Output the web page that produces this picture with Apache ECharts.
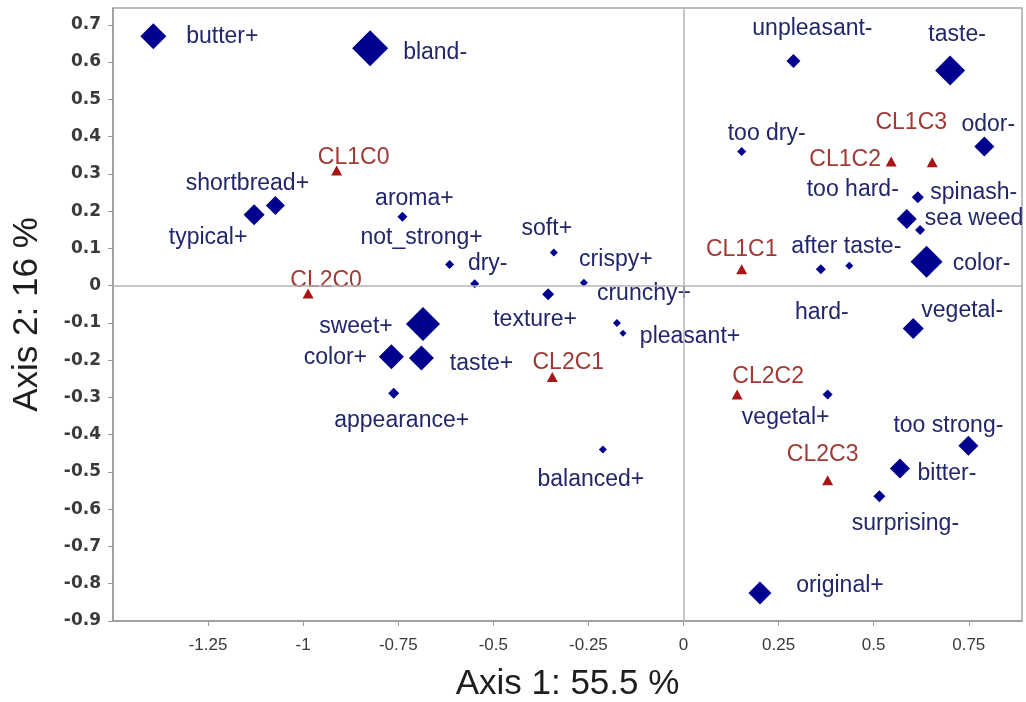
<!DOCTYPE html>
<html>
<head>
<meta charset="utf-8">
<script src="https://cdn.jsdelivr.net/npm/echarts@6/dist/echarts.min.js"></script>
<style>
html,body{margin:0;padding:0;background:#fff;}
#chart{width:1026px;height:702px;}
</style>
</head>
<body>
<div id="chart"></div>
<script>
// ---- Data ----
const attrNames = ["butter+","bland-","shortbread+","typical+","aroma+","not_strong+","dry-","soft+","crispy+","crunchy+","pleasant+","texture+","sweet+","color+","taste+","appearance+","balanced+","unpleasant-","taste-","too dry-","odor-","spinash-","too hard-","sea weed","hard-","after taste-","color-","vegetal-","vegetal+","too strong-","bitter-","surprising-","original+"];
const attrX = [-1.394,-0.824,-1.073,-1.129,-0.739,-0.615,-0.549,-0.341,-0.262,-0.175,-0.159,-0.356,-0.685,-0.768,-0.689,-0.762,-0.212,0.289,0.701,0.153,0.791,0.616,0.587,0.622,0.361,0.436,0.639,0.604,0.379,0.749,0.569,0.515,0.201];
const attrY = [0.669,0.637,0.215,0.190,0.185,0.057,0.005,0.089,0.008,-0.100,-0.128,-0.023,-0.103,-0.191,-0.194,-0.289,-0.440,0.603,0.577,0.360,0.373,0.237,0.179,0.149,0.044,0.053,0.064,-0.115,-0.292,-0.430,-0.491,-0.565,-0.825];
const attrWeight = [6.5,9,4.75,5.25,2.5,2.25,2.25,2,2,2,1.75,3,8.5,6.25,6.25,2.75,2,3.5,7.5,2.25,5,3,5,2.5,2.5,2,8,5.25,2.5,5,5,3,5.75];

const classNames = ["CL1C0","CL2C0","CL1C1","CL2C1","CL1C2","CL1C3","CL2C2","CL2C3"];
const classX = [-0.912,-0.987,0.153,-0.345,0.546,0.654,0.141,0.379];
const classY = [0.309,-0.021,0.044,-0.245,0.333,0.331,-0.292,-0.522];

const xTitle = "Axis 1: 55.5 %";
const yTitle = "Axis 2: 16 %";

// ---- Label placement (pixels from marker centre) ----
const labelOffset = {
  "butter+":[69,0],"bland-":[65,4],"shortbread+":[-28,-22],"typical+":[-46,23],"aroma+":[12,-18],
  "not_strong+":[-28,-27],"dry-":[13,-20],"soft+":[-7,-24],"crispy+":[32,-23],"crunchy+":[27,-29],
  "pleasant+":[67,3],"texture+":[-13,25],"sweet+":[-67,3],"color+":[-56,1],"taste+":[60,6],
  "appearance+":[8,27],"balanced+":[-12,30],"unpleasant-":[19,-32],"taste-":[7,-36],"too dry-":[25,-18],
  "odor-":[4,-22],"spinash-":[56,-5],"too hard-":[-54,-29],"sea weed":[54,-11],"hard-":[1,43],
  "after taste-":[-3,-19],"color-":[55,2],"vegetal-":[49,-18],"vegetal+":[-42,23],"too strong-":[-20,-20],
  "bitter-":[47,5],"surprising-":[26,27],"original+":[80,-7],
  "CL1C0":[17,-13],"CL2C0":[18,-13],"CL1C1":[0,-20],"CL2C1":[16,-14],"CL1C2":[-46,-2],
  "CL1C3":[-21,-40],"CL2C2":[31,-18],"CL2C3":[-5,-25]
};

const FONT = "'Liberation Sans', Arial, sans-serif";

const attrData = attrNames.map((n,i)=>({
  name:n, value:[attrX[i],attrY[i]], symbolSize: attrWeight[i]*4,
  label:{offset: labelOffset[n]}
}));
const classData = classNames.map((n,i)=>({
  name:n, value:[classX[i],classY[i]],
  label:{offset: labelOffset[n]}
}));

const chart = echarts.init(document.getElementById('chart'), null, {renderer:'canvas'});
chart.setOption({
  animation:false,
  backgroundColor:'#fff',
  grid:{left:113,right:4,top:8,bottom:81,outerBoundsMode:'none',containLabel:false,
    show:true,borderColor:'#a8a8a8',borderWidth:1.5},
  xAxis:{
    type:'value', min:-1.5, max:0.89, interval:0.25,
    name:xTitle, nameLocation:'middle', nameGap:46,
    nameTextStyle:{fontFamily:FONT,fontSize:35,color:'#1e1e1e'},
    axisLine:{onZero:false,lineStyle:{color:'#999',width:1.5}},
    axisTick:{show:true,length:5,lineStyle:{color:'#999'}},
    axisLabel:{showMinLabel:false,showMaxLabel:false,fontFamily:FONT,fontSize:17,color:'#3a3a3a',margin:16},
    splitLine:{show:false}
  },
  yAxis:{
    type:'value', min:-0.9, max:0.745, interval:0.1,
    name:yTitle, nameLocation:'middle', nameGap:68, nameRotate:90,
    nameTextStyle:{fontFamily:FONT,fontSize:35,color:'#1e1e1e'},
    axisLine:{onZero:false,lineStyle:{color:'#999',width:1.5}},
    axisTick:{show:true,length:5,lineStyle:{color:'#999'}},
    axisLabel:{showMaxLabel:false,fontFamily:"'DejaVu Sans', sans-serif",fontSize:17,fontWeight:'bold',color:'#3a3a3a',margin:12},
    splitLine:{show:false}
  },
  series:[
    {
      type:'scatter', name:'attributes', symbol:'diamond', data:attrData,
      itemStyle:{color:'#00008f',opacity:1},
      label:{show:true,position:'inside',formatter:'{b}',align:'center',verticalAlign:'middle',
        fontFamily:FONT,fontSize:23,color:'#22266a'},
      markLine:{silent:true,symbol:'none',label:{show:false},
        lineStyle:{color:'#b5b5b5',width:1.5,type:'solid',opacity:1},
        data:[{xAxis:0},{yAxis:0}]},
      z:3
    },
    {
      type:'scatter', name:'classes', symbol:'triangle', symbolSize:[11,10], data:classData,
      itemStyle:{color:'#a81515',opacity:1},
      label:{show:true,position:'inside',formatter:'{b}',align:'center',verticalAlign:'middle',
        fontFamily:FONT,fontSize:23,color:'#a03a36'},
      z:4
    }
  ]
});
</script>
</body>
</html>
